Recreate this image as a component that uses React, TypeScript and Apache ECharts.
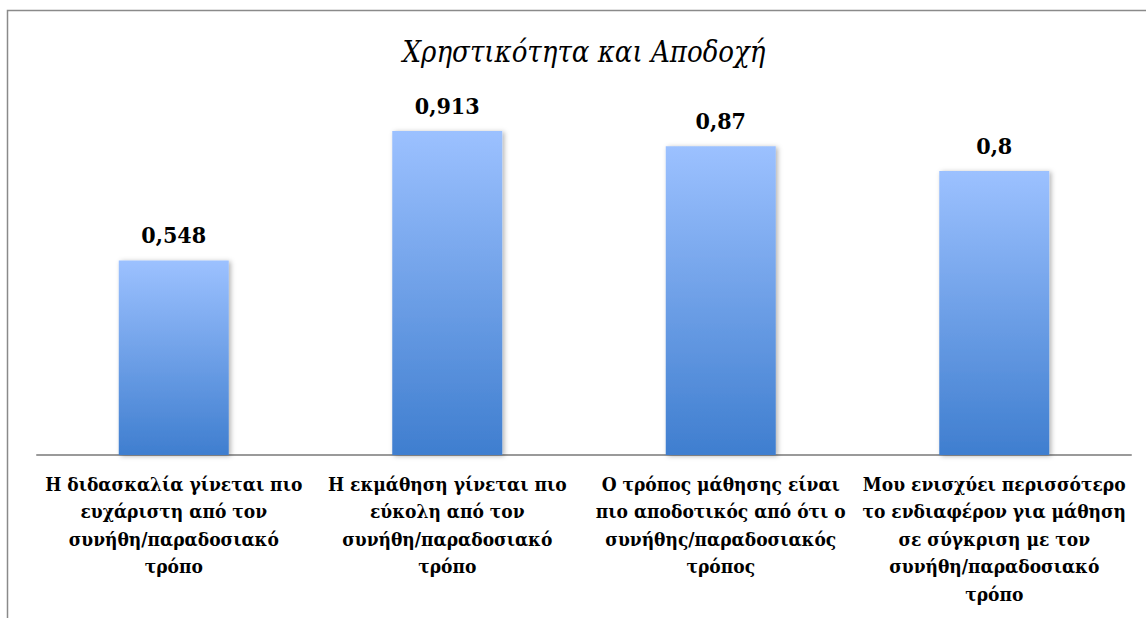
import React, { useEffect, useRef } from "react";
import * as echarts from "echarts";

const title = "Χρηστικότητα και Αποδοχή";
const categories = [
  "Η διδασκαλία γίνεται πιο\nευχάριστη από τον\nσυνήθη/παραδοσιακό\nτρόπο",
  "Η εκμάθηση γίνεται πιο\nεύκολη από τον\nσυνήθη/παραδοσιακό\nτρόπο",
  "Ο τρόπος μάθησης είναι\nπιο αποδοτικός από ότι ο\nσυνήθης/παραδοσιακός\nτρόπος",
  "Μου ενισχύει περισσότερο\nτο ενδιαφέρον για μάθηση\nσε σύγκριση με τον\nσυνήθη/παραδοσιακό\nτρόπο",
];
const values = [0.548, 0.913, 0.87, 0.8];

const FONT = "DejaVu Serif Condensed";

export default function App() {
  const ref = useRef<HTMLDivElement>(null);
  useEffect(() => {
    if (!ref.current) return;
    const chart = echarts.init(ref.current, undefined, { renderer: "svg" });
    chart.setOption({
      animation: false,
      backgroundColor: "#ffffff",
      title: {
        text: title,
        left: 579,
        textAlign: "center",
        top: 32,
        textStyle: {
          fontFamily: FONT,
          fontStyle: "italic",
          fontWeight: "normal",
          fontSize: 29,
          color: "#000",
        },
      },
      graphic: [
        {
          type: "rect",
          shape: { x: 7.5, y: 10.5, width: 1300, height: 800 },
          style: { fill: "none", stroke: "#8a8a8a", lineWidth: 1.5 },
          silent: true,
          z: -1,
        },
      ],
      grid: { left: 37, right: 15, top: 100, bottom: 163, containLabel: false },
      xAxis: {
        type: "category",
        data: categories,
        axisLine: { show: true, lineStyle: { color: "#9a9a9a", width: 2 } },
        axisTick: { show: false },
        axisLabel: {
          interval: 0,
          margin: 15,
          fontFamily: FONT,
          fontWeight: "bold",
          fontSize: 19,
          lineHeight: 27.5,
          color: "#000",
          align: "center",
        },
      },
      yAxis: {
        type: "value",
        min: 0,
        max: 1,
        show: false,
        splitLine: { show: false },
      },
      series: [
        {
          type: "bar",
          data: values,
          barWidth: 110,
          itemStyle: {
            color: new echarts.graphic.LinearGradient(0, 0, 0, 1, [
              { offset: 0, color: "#9cc1ff" },
              { offset: 1, color: "#3f7ecf" },
            ]),
            shadowBlur: 5,
            shadowColor: "rgba(0,0,0,0.3)",
            shadowOffsetX: 2,
            shadowOffsetY: 1,
          },
          label: {
            show: true,
            position: "top",
            distance: 14,
            fontFamily: FONT,
            fontWeight: "bold",
            fontSize: 23,
            color: "#000",
            formatter: (p: any) => String(p.value).replace(".", ","),
          },
        },
      ],
    });
    return () => chart.dispose();
  }, []);
  return (
    <div
      ref={ref}
      style={{ position: "fixed", left: 0, top: 0, width: 1146, height: 618 }}
    />
  );
}
